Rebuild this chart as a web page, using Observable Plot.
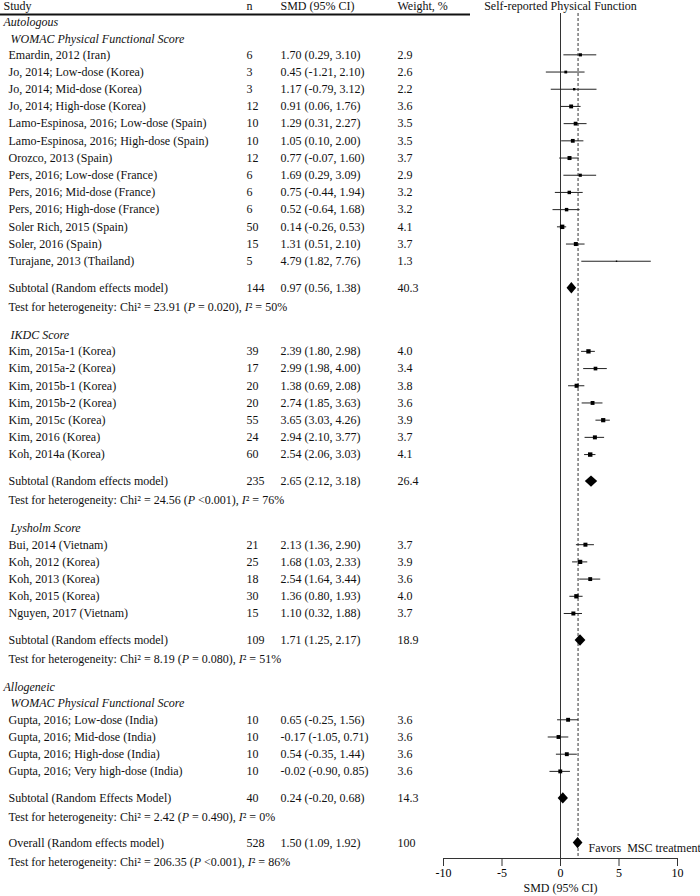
<!DOCTYPE html>
<html><head><meta charset="utf-8">
<script src="https://cdn.jsdelivr.net/npm/d3@7"></script>
<script src="https://cdn.jsdelivr.net/npm/@observablehq/plot@0.6"></script>
<style>body{margin:0;background:#fff;} svg{display:block}</style>
</head><body><div id="chart"></div>
<script>
// ---------- data ----------
const columnHeaders = ["Study", "n", "SMD (95% CI)", "Weight, %"];
const plotTitle = "Self-reported Physical Function";
const axisLabel = "SMD (95% CI)";
const favorsLabel = "Favors\u00a0\u00a0MSC treatment";
const xTicks = [-10, -5, 0, 5, 10];

const sectionArm = ["Autologous", null, null, "Allogeneic"];
const sectionScale = ["WOMAC Physical Functional Score", "IKDC Score", "Lysholm Score", "WOMAC Physical Functional Score"];

const studyNames = [
  "Emardin, 2012 (Iran)", "Jo, 2014; Low-dose (Korea)", "Jo, 2014; Mid-dose (Korea)", "Jo, 2014; High-dose (Korea)",
  "Lamo-Espinosa, 2016; Low-dose (Spain)", "Lamo-Espinosa, 2016; High-dose (Spain)", "Orozco, 2013 (Spain)",
  "Pers, 2016; Low-dose (France)", "Pers, 2016; Mid-dose (France)", "Pers, 2016; High-dose (France)",
  "Soler Rich, 2015 (Spain)", "Soler, 2016 (Spain)", "Turajane, 2013 (Thailand)",
  "Kim, 2015a-1 (Korea)", "Kim, 2015a-2 (Korea)", "Kim, 2015b-1 (Korea)", "Kim, 2015b-2 (Korea)",
  "Kim, 2015c (Korea)", "Kim, 2016 (Korea)", "Koh, 2014a (Korea)",
  "Bui, 2014 (Vietnam)", "Koh, 2012 (Korea)", "Koh, 2013 (Korea)", "Koh, 2015 (Korea)", "Nguyen, 2017 (Vietnam)",
  "Gupta, 2016; Low-dose (India)", "Gupta, 2016; Mid-dose (India)", "Gupta, 2016; High-dose (India)", "Gupta, 2016; Very high-dose (India)"
];
const studySection = [0,0,0,0,0,0,0,0,0,0,0,0,0, 1,1,1,1,1,1,1, 2,2,2,2,2, 3,3,3,3];
const studyN = [6,3,3,12,10,10,12,6,6,6,50,15,5, 39,17,20,20,55,24,60, 21,25,18,30,15, 10,10,10,10];
const studySMD = [1.70,0.45,1.17,0.91,1.29,1.05,0.77,1.69,0.75,0.52,0.14,1.31,4.79, 2.39,2.99,1.38,2.74,3.65,2.94,2.54, 2.13,1.68,2.54,1.36,1.10, 0.65,-0.17,0.54,-0.02];
const studyLow = [0.29,-1.21,-0.79,0.06,0.31,0.10,-0.07,0.29,-0.44,-0.64,-0.26,0.51,1.82, 1.80,1.98,0.69,1.85,3.03,2.10,2.06, 1.36,1.03,1.64,0.80,0.32, -0.25,-1.05,-0.35,-0.90];
const studyHigh = [3.10,2.10,3.12,1.76,2.27,2.00,1.60,3.09,1.94,1.68,0.53,2.10,7.76, 2.98,4.00,2.08,3.63,4.26,3.77,3.03, 2.90,2.33,3.44,1.93,1.88, 1.56,0.71,1.44,0.85];
const studyWeight = [2.9,2.6,2.2,3.6,3.5,3.5,3.7,2.9,3.2,3.2,4.1,3.7,1.3, 4.0,3.4,3.8,3.6,3.9,3.7,4.1, 3.7,3.9,3.6,4.0,3.7, 3.6,3.6,3.6,3.6];

const subtotalLabels = ["Subtotal (Random effects model)", "Subtotal (Random effects model)", "Subtotal (Random effects model)", "Subtotal (Random Effects Model)"];
const subtotalN = [144, 235, 109, 40];
const subtotalSMD = [0.97, 2.65, 1.71, 0.24];
const subtotalLow = [0.56, 2.12, 1.25, -0.20];
const subtotalHigh = [1.38, 3.18, 2.17, 0.68];
const subtotalWeight = ["40.3", "26.4", "18.9", "14.3"];
const heteroChi = ["23.91", "24.56", "8.19", "2.42"];
const heteroP = ["= 0.020", "<0.001", "= 0.080", "= 0.490"];
const heteroI2 = [50, 76, 51, 0];

const overallLabel = "Overall (Random effects model)";
const overallN = 528;
const overallSMD = 1.50, overallLow = 1.09, overallHigh = 1.92;
const overallWeight = "100";
const overallChi = "206.35", overallP = "<0.001", overallI2 = 86;

// ---------- layout (row units) ----------
const W = 700, H = 896;
const ROW_PX = 17.2, FIRST_PX = 22, FRAME_TOP = 13, FRAME_BOTTOM = 858, HEADER_PX = 6;
const GAP = {head: 0.94, sub: 1.57, test: 1.1, section: 1.63, overall: 1.5};
const toUnit = px => (px - FIRST_PX) / ROW_PX;
const yTop = toUnit(FRAME_TOP), yBottom = toUnit(FRAME_BOTTOM), yHeader = toUnit(HEADER_PX);

const fmt = v => v.toFixed(2);
const ciText = (m, l, h) => `${fmt(m)} (${fmt(l)}, ${fmt(h)})`;
const heteroText = (chi, p, i2) => `Test for heterogeneity: Chi\u00b2 = ${chi} (P ${p}), I\u00b2 = ${i2}%`;

const labelRows = [], studies = [], summaries = [], tests = [];
let y = 0;
sectionScale.forEach((scale, s) => {
  if (s > 0) y += GAP.section;
  if (sectionArm[s]) { labelRows.push({y, text: sectionArm[s], level: 0}); y += GAP.head; }
  labelRows.push({y, text: scale, level: 1}); y += GAP.head;
  let first = true;
  studyNames.forEach((name, i) => {
    if (studySection[i] !== s) return;
    if (!first) y += 1;
    first = false;
    studies.push({y, name, n: String(studyN[i]), smd: studySMD[i], lo: studyLow[i], hi: studyHigh[i],
      w: studyWeight[i], ci: ciText(studySMD[i], studyLow[i], studyHigh[i]), wt: studyWeight[i].toFixed(1)});
  });
  y += GAP.sub;
  summaries.push({y, name: subtotalLabels[s], n: String(subtotalN[s]), smd: subtotalSMD[s], lo: subtotalLow[s], hi: subtotalHigh[s],
    ci: ciText(subtotalSMD[s], subtotalLow[s], subtotalHigh[s]), wt: subtotalWeight[s]});
  y += GAP.test;
  tests.push({y, text: heteroText(heteroChi[s], heteroP[s], heteroI2[s])});
});
y += GAP.overall;
const overallY = y;
summaries.push({y, name: overallLabel, n: String(overallN), smd: overallSMD, lo: overallLow, hi: overallHigh,
  ci: ciText(overallSMD, overallLow, overallHigh), wt: overallWeight});
y += GAP.test;
tests.push({y, text: heteroText(overallChi, overallP, overallI2)});

const DIAMOND_H = 0.33;
const diamonds = summaries.flatMap((d, k) => [
  {k, y: d.y - DIAMOND_H, x1: d.smd, x2: d.smd},
  {k, y: d.y, x1: d.lo, x2: d.hi},
  {k, y: d.y + DIAMOND_H, x1: d.smd, x2: d.smd}
]);

const tableRows = studies.concat(summaries);
const COL = {study: 8, arm: 3, scale: 10, n: 246, ci: 280, wt: 397};
const headerCols = [COL.arm, COL.n, COL.ci, COL.wt];

const txt = (data, opts) => Plot.text(data, {frameAnchor: "left", textAnchor: "start", fontSize: 12, fill: "#111", ...opts});

const chart = Plot.plot({
  width: W, height: H,
  marginLeft: 0, marginRight: 0, marginTop: FRAME_TOP, marginBottom: H - FRAME_BOTTOM,
  style: {fontFamily: "'Liberation Serif', 'Times New Roman', serif", fontSize: "12px", background: "#fff", overflow: "visible"},
  x: {domain: [xTicks[0], xTicks[xTicks.length - 1]], range: [443, 677]},
  y: {domain: [yTop, yBottom], range: [FRAME_TOP, FRAME_BOTTOM], axis: null},
  r: {type: "linear", domain: [0, 4.1], range: [0, 2.5]},
  marks: [
    Plot.ruleY([yTop], {strokeWidth: 2, insetRight: W - 470, stroke: "#111", dy: 1}),
    Plot.ruleX([0], {stroke: "#333"}),
    Plot.ruleX([overallSMD], {stroke: "#333", strokeDasharray: "3,2"}),
    Plot.ruleY([yBottom], {x1: xTicks[0], x2: xTicks[xTicks.length - 1], stroke: "#333"}),
    Plot.axisX(xTicks, {tickSize: 8, tickPadding: 2, tickFormat: d => String(d), label: null, fontSize: 12, stroke: "#333"}),
    Plot.text([axisLabel], {x: () => 0, frameAnchor: "bottom", dy: 33, fontSize: 12, fill: "#111"}),
    Plot.ruleY(studies, {y: "y", x1: "lo", x2: "hi", stroke: "#222"}),
    Plot.dot(studies, {x: "smd", y: "y", r: "w", symbol: "square", fill: "#000"}),
    Plot.areaX(diamonds, {y: "y", x1: "x1", x2: "x2", z: "k", fill: "#000"}),
    // column headers
    ...columnHeaders.map((h, i) => txt([h], {y: () => yHeader, dx: headerCols[i]})),
    Plot.text([plotTitle], {x: () => 0, y: () => yHeader, fontSize: 12, fill: "#111"}),
    // section labels
    txt(labelRows.filter(d => d.level === 0), {y: "y", text: "text", dx: COL.arm, fontStyle: "italic"}),
    txt(labelRows.filter(d => d.level === 1), {y: "y", text: "text", dx: COL.scale, fontStyle: "italic"}),
    // table
    txt(tableRows, {y: "y", text: "name", dx: COL.study}),
    txt(tableRows, {y: "y", text: "n", dx: COL.n}),
    txt(tableRows, {y: "y", text: "ci", dx: COL.ci}),
    txt(tableRows, {y: "y", text: "wt", dx: COL.wt}),
    txt(tests, {y: "y", text: "text", dx: COL.study}),
    Plot.text([favorsLabel], {x: () => 0, y: () => overallY, dx: 28, dy: 5, textAnchor: "start", fontSize: 12, fill: "#111"})
  ]
});
document.getElementById("chart").appendChild(chart);

// italicise P and I in heterogeneity lines
const NS = "http://www.w3.org/2000/svg";
chart.querySelectorAll("text").forEach(t => {
  const s = t.textContent;
  const m = s.match(/^(Test for heterogeneity: .*\()P( .*\), )I(\u00b2.*)$/);
  if (!m) return;
  t.textContent = "";
  const add = (str, italic) => {
    const sp = document.createElementNS(NS, "tspan");
    if (italic) sp.setAttribute("font-style", "italic");
    sp.textContent = str;
    t.appendChild(sp);
  };
  add(m[1]); add("P", true); add(m[2]); add("I", true); add(m[3]);
});
</script>
</body></html>
